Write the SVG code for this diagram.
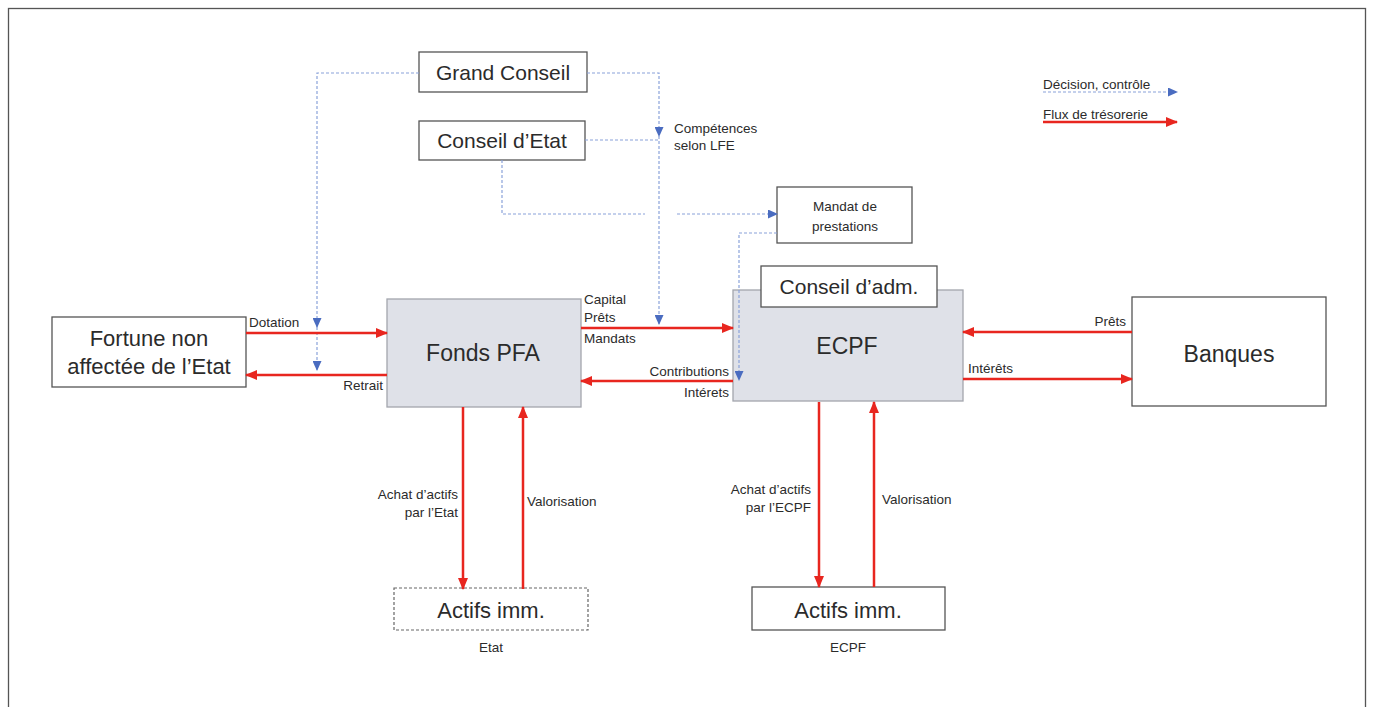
<svg xmlns="http://www.w3.org/2000/svg" width="1375" height="707" viewBox="0 0 1375 707">
<defs>
<style>
text{font-family:"Liberation Sans",Arial,sans-serif;fill:#2b2b2b}
.big{font-size:21px}
.lg{font-size:22px}
.sm{font-size:13.5px}
.mid{text-anchor:middle}
.end{text-anchor:end}
.box{fill:#fff;stroke:#555;stroke-width:1.3}
.gray{fill:#dfe1e8;stroke:#a3a5ad;stroke-width:1.3}
.red{fill:none;stroke:#e8261f;stroke-width:2.5;marker-end:url(#ar)}
.blue{fill:none;stroke:#8aa2da;stroke-width:1.2;stroke-dasharray:3 2}
.ba{marker-end:url(#ab)}
</style>
<marker id="ar" markerUnits="userSpaceOnUse" markerWidth="12" markerHeight="10" refX="11" refY="5" orient="auto"><path d="M0,0 L12,5 L0,10 Z" fill="#e8261f"/></marker>
<marker id="ab" markerUnits="userSpaceOnUse" markerWidth="10" markerHeight="9" refX="9" refY="4.5" orient="auto"><path d="M0,0 L10,4.5 L0,9 Z" fill="#4a6cc0"/></marker>
</defs>
<rect x="0" y="0" width="1375" height="707" fill="#fff"/>
<rect x="8.5" y="8.5" width="1357" height="720" fill="none" stroke="#555" stroke-width="1.3"/>

<g id="grand-conseil">
<rect class="box" x="419" y="52" width="168" height="40"/>
<text class="big mid" x="503" y="80">Grand Conseil</text>
</g>
<g id="conseil-etat">
<rect class="box" x="419" y="121" width="166" height="39"/>
<text class="big mid" x="502" y="148">Conseil d’Etat</text>
</g>
<g id="mandat">
<rect class="box" x="777" y="187" width="135" height="56"/>
<text class="sm mid" x="845" y="211">Mandat de</text>
<text class="sm mid" x="845" y="231">prestations</text>
</g>
<g id="fortune">
<rect class="box" x="52" y="317" width="194" height="70"/>
<text class="lg mid" x="149" y="346">Fortune non</text>
<text class="lg mid" x="149" y="374">affectée de l’Etat</text>
</g>
<g id="fonds-pfa">
<rect class="gray" x="387" y="299" width="194" height="108"/>
<text class="mid" style="font-size:23px" x="483" y="361">Fonds PFA</text>
</g>
<g id="ecpf">
<rect class="gray" x="733" y="290" width="230" height="111"/>
<text class="mid" style="font-size:23px" x="847" y="354">ECPF</text>
</g>
<g id="conseil-adm">
<rect class="box" x="761" y="266" width="176" height="41"/>
<text class="big mid" x="849" y="294">Conseil d’adm.</text>
</g>
<g id="banques">
<rect class="box" x="1132" y="297" width="194" height="109"/>
<text class="mid" style="font-size:23px" x="1229" y="362">Banques</text>
</g>
<g id="actifs-etat">
<rect x="394" y="588" width="194" height="42" fill="#fff" stroke="#666" stroke-width="1.2" stroke-dasharray="3 2"/>
<text class="lg mid" x="491" y="618">Actifs imm.</text>
<text class="sm mid" x="491" y="652">Etat</text>
</g>
<g id="actifs-ecpf">
<rect class="box" x="752" y="587" width="193" height="43"/>
<text class="lg mid" x="848" y="618">Actifs imm.</text>
<text class="sm mid" x="848" y="652">ECPF</text>
</g>

<g id="connectors">
<path class="blue ba" d="M419,73 H317 V327"/>
<path class="blue ba" d="M317,327 V370"/>
<path class="blue ba" d="M587,73 H659 V136"/>
<path class="blue ba" d="M659,136 V324"/>
<path class="blue" d="M585,140 H659"/>
<path class="blue" d="M502,160 V214 H645"/>
<path class="blue ba" d="M677,214 H777"/>
<path class="blue ba" d="M777,233 H739 V380"/>
<path class="blue ba" d="M1043,92 H1177"/>

<path class="red" d="M246,333 H387"/>
<path class="red" d="M387,375 H246"/>
<path class="red" d="M581,328 H733"/>
<path class="red" d="M733,381 H581"/>
<path class="red" d="M1132,332 H963"/>
<path class="red" d="M963,379 H1132"/>
<path class="red" d="M463,407 V589"/>
<path class="red" d="M523,589 V407"/>
<path class="red" d="M819,402 V587"/>
<path class="red" d="M874,587 V402"/>
<path class="red" d="M1043,122 H1177"/>

<text class="sm" x="249" y="327">Dotation</text>
<text class="sm end" x="383" y="390">Retrait</text>
<text class="sm" x="584" y="304">Capital</text>
<text class="sm" x="584" y="322">Prêts</text>
<text class="sm" x="584" y="343">Mandats</text>
<text class="sm end" x="729" y="376">Contributions</text>
<text class="sm end" x="729" y="397">Intérets</text>
<text class="sm end" x="1126" y="326">Prêts</text>
<text class="sm" x="968" y="373">Intérêts</text>
<text class="sm" x="674" y="133">Compétences</text>
<text class="sm" x="674" y="150">selon LFE</text>
<text class="sm end" x="458" y="499">Achat d’actifs</text>
<text class="sm end" x="458" y="517">par l’Etat</text>
<text class="sm" x="527" y="506">Valorisation</text>
<text class="sm end" x="811" y="494">Achat d’actifs</text>
<text class="sm end" x="811" y="512">par l’ECPF</text>
<text class="sm" x="882" y="504">Valorisation</text>
<text class="sm" x="1043" y="89">Décision, contrôle</text>
<text class="sm" x="1043" y="119">Flux de trésorerie</text>
</g>
</svg>
